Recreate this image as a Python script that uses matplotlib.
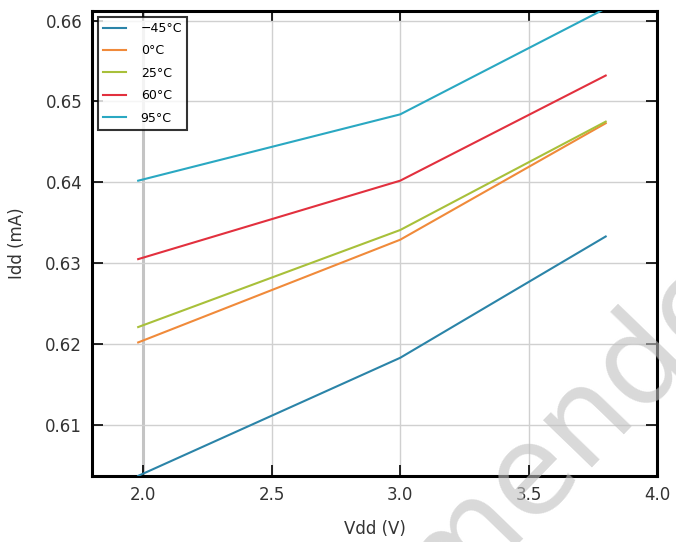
import matplotlib
matplotlib.use("Agg")
import matplotlib.pyplot as plt

vdd = [1.98, 3.0, 3.8]
labels = ["\u221245\u00b0C", "0\u00b0C", "25\u00b0C", "60\u00b0C", "95\u00b0C"]
idd_m45 = [0.6037, 0.6183, 0.6333]
idd_0 = [0.6202, 0.6329, 0.6473]
idd_25 = [0.6221, 0.6341, 0.6475]
idd_60 = [0.6305, 0.6402, 0.6532]
idd_95 = [0.6402, 0.6484, 0.6615]
series = [idd_m45, idd_0, idd_25, idd_60, idd_95]
colors = ["#2b84a8", "#f08a3a", "#a8c03a", "#e2303e", "#2aa8c2"]

xticks = [2.0, 2.5, 3.0, 3.5, 4.0]
yticks = [0.61, 0.62, 0.63, 0.64, 0.65, 0.66]

fig = plt.figure(figsize=(6.76, 5.42), dpi=100)
ax = fig.add_axes([0.136, 0.122, 0.836, 0.858])

for vals, lab, c in zip(series, labels, colors):
    ax.plot(vdd, vals, color=c, lw=1.5, label=lab, zorder=3)

ax.set_xlim(1.8, 4.0)
ax.set_ylim(0.6037, 0.6612)
ax.set_xticks(xticks)
ax.set_xticklabels([f"{t:.1f}" for t in xticks])
ax.set_yticks(yticks)
ax.set_yticklabels([f"{t:.2f}" for t in yticks])
ax.grid(True, color="#d0d0d0", lw=1.0, zorder=0)
gl = ax.get_xgridlines()
gl[0].set_linewidth(2.2)
gl[0].set_color("#c4c4c4")
ax.tick_params(direction="in", top=True, right=True, length=8, width=1.2,
               labelsize=12, colors="black", pad=7)
for tl in ax.get_xticklabels() + ax.get_yticklabels():
    tl.set_color("#333333")
for s in ax.spines.values():
    s.set_linewidth(2.2)
ax.set_xlabel("Vdd (V)", fontsize=12, color="#333333", labelpad=12)
ax.set_ylabel("Idd (mA)", fontsize=12, color="#333333", labelpad=14)

leg = ax.legend(loc="upper left", fontsize=9, frameon=True, fancybox=False,
                borderaxespad=0.5, handlelength=1.8, handletextpad=1.2,
                labelspacing=0.75)
leg.get_frame().set_edgecolor("black")
leg.get_frame().set_linewidth(1.5)

fig.text(0.665, -0.02, "Recommended", fontsize=90, color="#c0c0c0", alpha=0.6,
         rotation=46, ha="center", va="center", zorder=10)

fig.savefig("out.png", dpi=100)
